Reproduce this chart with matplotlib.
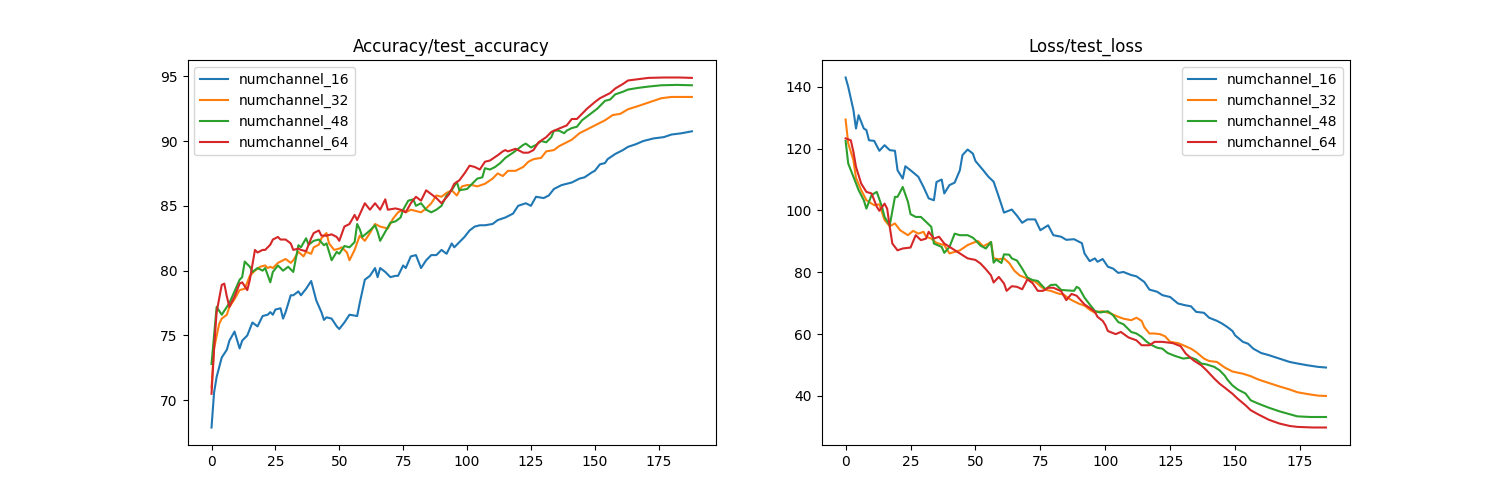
from matplotlib import pyplot as plt

labels = ['numchannel_16', 'numchannel_32', 'numchannel_48', 'numchannel_64']

# (epoch, value)
acc_16 = [(0, 67.9), (1, 70.6), (2, 71.8), (4, 73.3), (6, 73.9), (7, 74.6), (9, 75.3), (11, 74.0),
          (12, 74.6), (14, 75.0), (16, 76.0), (18, 75.7), (20, 76.5), (22, 76.6), (23, 76.8), (24, 76.6),
          (25, 77.0), (27, 77.1), (28, 76.3), (29, 76.8), (31, 78.1), (32, 78.1), (34, 78.4), (35, 78.1),
          (37, 78.6), (39, 79.2), (41, 77.7), (43, 76.8), (44, 76.2), (45, 76.4), (47, 76.3), (49, 75.7),
          (50, 75.5), (52, 76.0), (54, 76.6), (57, 76.5), (58, 77.5), (60, 79.3), (62, 79.6), (64, 80.2),
          (65, 79.5), (66, 80.2), (68, 79.9), (70, 79.5), (72, 79.6), (73, 79.6), (75, 80.4), (76, 80.2),
          (78, 81.1), (80, 81.2), (82, 80.2), (84, 80.8), (86, 81.2), (88, 81.2), (90, 81.6), (92, 81.3),
          (94, 82.1), (95, 81.8), (97, 82.2), (99, 82.6), (101, 83.1), (103, 83.4), (105, 83.5),
          (107, 83.5), (110, 83.6), (112, 83.9), (115, 84.1), (118, 84.4), (120, 85.0), (123, 85.2),
          (125, 85.0), (127, 85.7), (130, 85.6), (132, 85.8), (134, 86.3), (137, 86.6), (139, 86.7),
          (141, 86.8), (144, 87.1), (146, 87.2), (149, 87.6), (150, 87.7), (152, 88.2), (154, 88.3),
          (155, 88.6), (158, 89.0), (161, 89.3), (163, 89.55), (166, 89.75), (169, 90.0), (173, 90.2),
          (177, 90.3), (180, 90.5), (184, 90.6), (188, 90.75)]

acc_32 = [(0, 71.0), (1, 74.0), (3, 75.9), (4, 76.3), (6, 76.6), (7, 77.2), (9, 77.8), (11, 78.5),
          (13, 78.6), (15, 79.6), (17, 80.0), (19, 80.3), (21, 80.4), (22, 80.2), (23, 80.3), (24, 80.2),
          (26, 80.6), (29, 80.9), (31, 80.6), (32, 80.8), (34, 81.45), (36, 81.1), (37, 81.45),
          (39, 81.3), (40, 81.8), (42, 82.0), (43, 82.5), (45, 82.9), (46, 82.1), (48, 81.6), (50, 81.7),
          (51, 81.8), (53, 81.4), (54, 80.8), (56, 81.6), (58, 82.7), (60, 82.3), (62, 82.9), (64, 83.6),
          (66, 83.4), (69, 83.25), (71, 84.0), (73, 84.5), (75, 84.7), (76, 84.5), (78, 84.7), (80, 84.6),
          (82, 84.5), (84, 84.8), (86, 85.2), (88, 85.8), (90, 85.7), (92, 86.0), (94, 86.2), (96, 85.8),
          (98, 86.5), (100, 86.6), (102, 86.6), (104, 86.5), (107, 86.7), (110, 87.1), (112, 87.5),
          (114, 87.3), (116, 87.7), (119, 87.7), (122, 88.0), (124, 88.4), (126, 88.6), (129, 88.7),
          (131, 89.2), (134, 89.3), (136, 89.6), (139, 89.9), (141, 90.1), (144, 90.6), (146, 90.8),
          (149, 91.1), (152, 91.4), (154, 91.6), (157, 92.0), (160, 92.1), (163, 92.45), (167, 92.7),
          (170, 92.9), (173, 93.1), (176, 93.3), (180, 93.4), (184, 93.4), (188, 93.4)]

acc_48 = [(0, 72.8), (2, 77.2), (4, 76.6), (5, 76.9), (7, 77.5), (9, 78.4), (11, 79.3), (12, 79.5),
          (13, 80.7), (15, 80.3), (16, 79.9), (18, 80.2), (20, 80.0), (21, 80.2), (23, 79.1), (24, 79.9),
          (26, 80.4), (28, 80.0), (30, 80.3), (32, 79.9), (34, 81.96), (35, 81.8), (37, 82.5), (38, 82.0),
          (40, 82.3), (42, 82.4), (44, 81.96), (45, 82.1), (47, 80.8), (49, 81.45), (50, 81.3),
          (52, 81.9), (54, 81.8), (56, 82.2), (57, 83.6), (58, 83.2), (59, 82.6), (62, 83.1), (64, 83.5),
          (65, 83.0), (66, 82.3), (68, 83.0), (70, 83.7), (72, 83.8), (74, 84.1), (75, 84.7), (77, 85.4),
          (79, 85.5), (80, 85.0), (82, 85.2), (84, 84.7), (86, 84.5), (88, 84.7), (90, 85.0), (92, 85.8),
          (94, 86.2), (96, 86.85), (97, 86.2), (100, 86.3), (102, 86.7), (104, 87.1), (106, 87.2),
          (107, 87.9), (109, 87.8), (111, 88.0), (113, 88.3), (115, 88.7), (118, 89.1), (120, 89.4),
          (122, 89.7), (123, 89.8), (125, 89.5), (127, 89.7), (129, 90.0), (131, 89.9), (133, 90.3),
          (134, 90.8), (136, 90.8), (138, 90.6), (139, 90.8), (141, 91.0), (143, 91.1), (145, 91.6),
          (147, 91.9), (149, 92.2), (151, 92.5), (153, 92.9), (154, 93.1), (156, 93.2), (158, 93.6),
          (161, 93.8), (163, 93.97), (167, 94.1), (171, 94.2), (176, 94.3), (182, 94.33), (188, 94.3)]

acc_64 = [(0, 70.5), (1, 74.0), (2, 76.8), (4, 78.9), (5, 79.0), (6, 78.0), (7, 77.2), (9, 78.0),
          (11, 79.0), (12, 79.1), (14, 78.5), (15, 79.3), (17, 81.6), (18, 81.4), (20, 81.6), (21, 81.6),
          (23, 82.0), (24, 82.4), (26, 82.6), (27, 82.4), (29, 82.4), (31, 82.1), (32, 81.6), (34, 81.7),
          (35, 81.6), (37, 81.5), (39, 82.5), (40, 82.9), (42, 83.1), (43, 82.7), (45, 82.7), (47, 82.8),
          (49, 82.6), (50, 82.3), (52, 83.4), (54, 83.6), (56, 84.3), (57, 83.9), (60, 85.2), (62, 84.7),
          (64, 85.2), (66, 84.7), (68, 85.5), (69, 84.7), (72, 84.8), (74, 84.7), (76, 84.5), (78, 85.2),
          (80, 85.7), (82, 85.4), (84, 86.2), (86, 85.9), (88, 85.6), (90, 85.2), (93, 85.9), (95, 86.7),
          (97, 86.97), (99, 87.5), (101, 88.1), (103, 88.0), (105, 87.8), (107, 88.4), (109, 88.5),
          (112, 88.9), (114, 89.2), (115, 89.3), (116, 89.2), (119, 89.4), (122, 89.1), (124, 89.1),
          (126, 89.3), (128, 89.9), (131, 90.3), (133, 90.7), (136, 90.96), (139, 91.2), (141, 91.7),
          (143, 91.7), (145, 92.1), (147, 92.5), (150, 93.0), (152, 93.3), (154, 93.5), (156, 93.7),
          (158, 94.05), (161, 94.4), (163, 94.67), (167, 94.77), (171, 94.87), (177, 94.9), (183, 94.9),
          (188, 94.87)]

loss_16 = [(0, 143.0), (1, 140.0), (3, 132.5), (4, 126.5), (5, 130.8), (7, 126.5), (8, 126.0),
           (9, 122.7), (11, 122.5), (13, 119.3), (15, 121.1), (17, 119.5), (19, 119.3), (20, 113.0),
           (22, 110.3), (23, 114.3), (25, 113.0), (28, 110.9), (30, 107.6), (32, 103.9), (34, 103.3),
           (35, 109.2), (37, 110.0), (38, 105.5), (40, 108.2), (42, 109.0), (44, 113.0), (45, 117.9),
           (47, 119.7), (49, 118.4), (50, 116.0), (52, 114.0), (53, 113.0), (55, 110.9), (57, 109.3),
           (59, 104.4), (61, 99.3), (64, 100.3), (66, 98.3), (68, 96.0), (70, 97.1), (73, 97.1),
           (75, 93.6), (78, 95.2), (80, 92.0), (83, 91.5), (85, 90.5), (88, 90.7), (91, 89.4), (92, 86.1),
           (94, 83.6), (96, 84.5), (97, 83.4), (99, 84.3), (101, 81.8), (103, 81.2), (105, 79.8),
           (107, 80.1), (110, 79.1), (112, 78.7), (115, 76.9), (117, 74.4), (120, 73.7), (122, 72.6),
           (125, 72.0), (128, 69.9), (131, 69.3), (133, 69.0), (135, 67.2), (138, 66.9), (140, 65.3),
           (143, 64.3), (145, 63.4), (147, 62.3), (149, 61.0), (150, 59.6), (153, 57.5), (155, 56.9),
           (157, 55.3), (160, 53.9), (163, 53.2), (167, 52.1), (171, 51.0), (174, 50.5), (178, 49.9),
           (182, 49.4), (185, 49.2)]

loss_32 = [(0, 129.4), (1, 121.7), (3, 116.3), (4, 110.5), (6, 106.6), (8, 103.3), (11, 101.7),
           (13, 102.0), (15, 96.9), (17, 94.9), (19, 95.8), (21, 93.6), (24, 92.0), (26, 93.4),
           (28, 92.5), (30, 93.1), (31, 91.5), (33, 90.9), (35, 89.5), (38, 88.8), (40, 86.1), (42, 86.6),
           (44, 87.1), (47, 88.8), (49, 89.5), (51, 90.1), (53, 88.4), (55, 89.3), (56, 89.8), (57, 84.5),
           (59, 84.2), (61, 84.5), (63, 83.0), (65, 80.5), (67, 79.0), (69, 78.3), (71, 77.4), (73, 77.0),
           (75, 75.5), (77, 74.3), (79, 74.0), (82, 73.1), (84, 72.8), (86, 71.5), (88, 70.6), (90, 69.8),
           (92, 69.2), (94, 67.9), (96, 66.9), (97, 67.2), (99, 67.4), (100, 67.2), (102, 66.7),
           (105, 65.6), (107, 65.0), (110, 64.5), (112, 65.3), (114, 64.3), (115, 62.3), (117, 60.2),
           (119, 60.2), (121, 60.0), (123, 59.3), (125, 57.5), (128, 57.1), (130, 56.4), (133, 55.3),
           (135, 54.2), (138, 52.1), (140, 51.3), (143, 51.0), (146, 49.2), (149, 47.9), (153, 47.2),
           (156, 46.4), (159, 45.3), (163, 44.2), (167, 43.1), (171, 42.1), (174, 41.2), (178, 40.6),
           (182, 40.1), (185, 40.0)]

loss_48 = [(0, 122.5), (1, 115.2), (3, 110.9), (5, 106.6), (7, 103.3), (8, 100.6), (10, 105.0),
           (11, 105.5), (12, 106.0), (14, 101.2), (15, 97.9), (17, 95.2), (19, 104.4), (20, 104.4),
           (22, 107.6), (24, 102.8), (25, 98.8), (27, 97.9), (29, 97.9), (31, 96.3), (33, 94.7),
           (34, 89.3), (37, 88.2), (38, 86.3), (40, 88.2), (42, 92.5), (44, 92.0), (47, 92.0), (49, 91.2),
           (50, 90.4), (52, 88.6), (54, 87.7), (56, 89.8), (57, 83.1), (58, 84.1), (60, 83.0), (61, 85.8),
           (63, 85.7), (64, 84.5), (66, 83.8), (68, 81.2), (70, 78.3), (72, 77.5), (74, 77.2), (77, 74.5),
           (79, 75.9), (81, 76.0), (83, 74.3), (86, 74.1), (88, 74.0), (89, 75.3), (90, 74.8), (92, 71.8),
           (94, 69.6), (96, 67.5), (98, 67.0), (101, 67.4), (103, 66.1), (105, 63.9), (107, 63.2),
           (110, 60.7), (112, 60.2), (114, 59.1), (116, 57.5), (118, 56.4), (120, 55.6), (122, 55.3),
           (124, 53.9), (127, 52.9), (130, 52.1), (133, 52.4), (135, 51.8), (137, 50.5), (139, 50.2),
           (142, 49.4), (144, 48.3), (146, 46.6), (147, 45.3), (149, 43.4), (151, 42.1), (154, 40.8),
           (156, 38.6), (159, 37.5), (163, 36.2), (167, 35.05), (171, 34.1), (174, 33.4), (179, 33.2),
           (185, 33.2)]

loss_64 = [(0, 123.3), (2, 122.7), (3, 119.0), (4, 114.1), (6, 108.7), (8, 106.0), (10, 105.5),
           (12, 101.2), (13, 99.9), (15, 102.2), (16, 100.6), (17, 94.7), (18, 89.3), (20, 87.1),
           (22, 87.7), (25, 88.0), (27, 92.0), (29, 90.4), (31, 90.9), (32, 93.1), (34, 90.9), (36, 91.5),
           (38, 89.3), (41, 87.7), (44, 86.1), (47, 84.5), (50, 84.0), (52, 82.8), (54, 81.0), (56, 79.0),
           (57, 76.7), (59, 78.5), (61, 76.4), (62, 74.0), (64, 75.5), (66, 75.3), (68, 74.5), (70, 77.7),
           (72, 76.5), (74, 74.0), (76, 74.0), (78, 75.0), (80, 75.0), (83, 73.9), (85, 71.0), (87, 73.0),
           (89, 72.4), (92, 69.6), (94, 68.5), (96, 67.2), (97, 65.6), (99, 64.3), (100, 63.0),
           (101, 61.0), (104, 60.0), (106, 60.7), (109, 58.9), (112, 58.0), (114, 56.4), (117, 56.4),
           (119, 57.5), (122, 57.5), (126, 57.1), (129, 56.1), (131, 53.7), (134, 51.5), (137, 49.9),
           (139, 48.3), (142, 45.6), (144, 44.0), (146, 42.7), (149, 40.7), (151, 39.1), (154, 37.0),
           (156, 35.4), (159, 34.0), (163, 32.3), (167, 31.1), (171, 30.3), (174, 30.0), (180, 29.8),
           (185, 29.8)]


def draw(ax, series, title, loc):
    for label, points in zip(labels, series):
        xs = [p[0] for p in points]
        ys = [p[1] for p in points]
        ax.plot(xs, ys, label=label)
    ax.set_title(title)
    ax.legend(loc=loc)


fig, (ax1, ax2) = plt.subplots(1, 2, figsize=(15, 5), dpi=100)
draw(ax1, [acc_16, acc_32, acc_48, acc_64], 'Accuracy/test_accuracy', 'upper left')
draw(ax2, [loss_16, loss_32, loss_48, loss_64], 'Loss/test_loss', 'upper right')
fig.savefig('out.png', dpi=100)
